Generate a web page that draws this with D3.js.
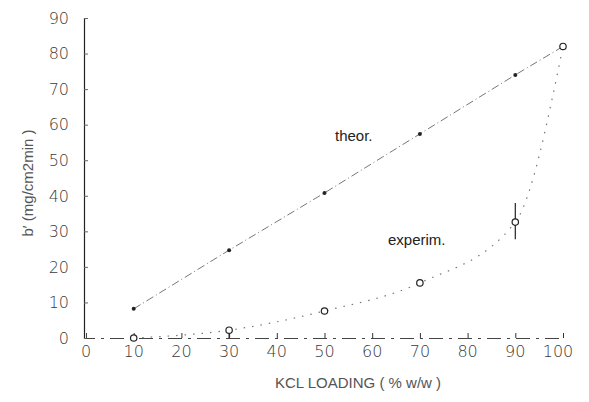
<!DOCTYPE html>
<html>
<head>
<meta charset="utf-8">
<script src="https://cdn.jsdelivr.net/npm/d3@7"></script>
<style>
  body { margin: 0; background: #fff; }
  text { font-family: "Liberation Sans", Arial, sans-serif; }
  .num { font-family: "DejaVu Sans", sans-serif; font-weight: 200; }
</style>
</head>
<body>
<script>
// KCl loading (% w/w)
var loading = [10, 30, 50, 70, 90, 100];
// theoretical b' (mg/cm2min)
var theor = [8.2, 24.7, 40.8, 57.4, 74, 82];
// experimental b' and error bar ends
var experim = [0, 2.2, 7.6, 15.5, 32.6, 82];
var errLow = [0, 0, 7.6, 15.5, 27.8, 82];
var errHigh = [0, 2.2, 7.6, 15.5, 38, 82];
var xTicks = [0, 10, 20, 30, 40, 50, 60, 70, 80, 90, 100];
var yTicks = [0, 10, 20, 30, 40, 50, 60, 70, 80, 90];

var width = 589, height = 402;
var svg = d3.select("body").append("svg")
  .attr("width", width)
  .attr("height", height);

var x = d3.scaleLinear().domain([0, 100]).range([86, 563]);
var y = d3.scaleLinear().domain([0, 90]).range([338, 18]);

// y axis
var yAxis = svg.append("g")
  .attr("transform", "translate(84,0)")
  .call(d3.axisRight(y).tickValues(yTicks).tickSize(4).tickFormat(""));
yAxis.select(".domain").attr("stroke", "#222").attr("stroke-width", 1.2);
yAxis.selectAll(".tick line").attr("stroke", "#666");

svg.selectAll(".ylab")
  .data(yTicks)
  .enter()
  .append("text")
  .attr("class", "ylab num")
  .attr("x", 69)
  .attr("y", function(d) { return y(d); })
  .attr("dy", "0.36em")
  .attr("text-anchor", "end")
  .attr("font-size", 16)
  .attr("fill", "#3a3a3a")
  .text(function(d) { return d; });

// x axis, broken like the scan
var xAxis = svg.append("g")
  .attr("transform", "translate(0,338)")
  .call(d3.axisTop(x).tickValues(xTicks.slice(1)).tickSize(5).tickFormat(""));
xAxis.select(".domain")
  .attr("stroke", "#444")
  .attr("stroke-dasharray", "14,6,3,6");
xAxis.selectAll(".tick line").attr("stroke", "#333");

svg.selectAll(".xlab")
  .data(xTicks)
  .enter()
  .append("text")
  .attr("class", "xlab num")
  .attr("x", function(d) { return x(d) - (d === 100 ? 5 : 0); })
  .attr("y", 343)
  .attr("dy", "0.9em")
  .attr("text-anchor", "middle")
  .attr("font-size", 16)
  .attr("fill", "#3a3a3a")
  .text(function(d) { return d; });

// theoretical line
var line = d3.line()
  .x(function(d) { return x(d[0]); })
  .y(function(d) { return y(d[1]); });

svg.append("path")
  .datum(d3.zip(loading, theor))
  .attr("d", line)
  .attr("fill", "none")
  .attr("stroke", "#777")
  .attr("stroke-width", 1)
  .attr("stroke-dasharray", "8,3,1,3");

// experimental curve
var curve = d3.line()
  .curve(d3.curveMonotoneX)
  .x(function(d) { return x(d[0]); })
  .y(function(d) { return y(d[1]); });

svg.append("path")
  .datum(d3.zip(loading, experim))
  .attr("d", curve)
  .attr("fill", "none")
  .attr("stroke", "#777")
  .attr("stroke-width", 1.2)
  .attr("stroke-dasharray", "1.5,7");

// error bars
svg.selectAll(".err")
  .data(d3.zip(loading, errLow, errHigh))
  .enter()
  .append("line")
  .attr("class", "err")
  .attr("x1", function(d) { return x(d[0]); })
  .attr("x2", function(d) { return x(d[0]); })
  .attr("y1", function(d) { return y(d[1]); })
  .attr("y2", function(d) { return y(d[2]); })
  .attr("stroke", "#222")
  .attr("stroke-width", 1.2);

// markers
svg.selectAll(".tpt")
  .data(d3.zip(loading, theor))
  .enter()
  .append("circle")
  .attr("class", "tpt")
  .attr("cx", function(d) { return x(d[0]); })
  .attr("cy", function(d) { return y(d[1]); })
  .attr("r", 2)
  .attr("fill", "#222");

svg.selectAll(".ept")
  .data(d3.zip(loading, experim))
  .enter()
  .append("circle")
  .attr("class", "ept")
  .attr("cx", function(d) { return x(d[0]); })
  .attr("cy", function(d) { return y(d[1]); })
  .attr("r", 3.2)
  .attr("fill", "#fff")
  .attr("stroke", "#222")
  .attr("stroke-width", 1.2);

// labels
svg.append("text")
  .attr("x", 335).attr("y", 141)
  .attr("font-size", 15)
  .attr("fill", "#222")
  .text("theor.");

svg.append("text")
  .attr("x", 388).attr("y", 245)
  .attr("font-size", 15)
  .attr("fill", "#222")
  .text("experim.");

svg.append("text")
  .attr("transform", "translate(33,183) rotate(-90)")
  .attr("text-anchor", "middle")
  .attr("font-size", 15)
  .attr("fill", "#555")
  .text("b\u2032 (mg/cm2min )");

svg.append("text")
  .attr("x", 358).attr("y", 388)
  .attr("text-anchor", "middle")
  .attr("font-size", 15)
  .attr("fill", "#555")
  .text("KCL LOADING ( % w/w )");
</script>
</body>
</html>
